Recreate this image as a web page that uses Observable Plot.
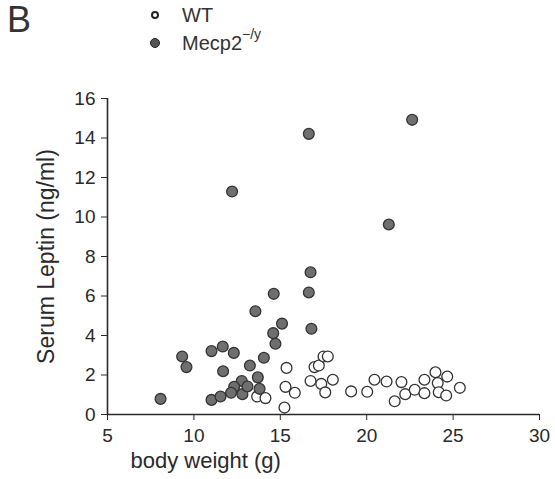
<!DOCTYPE html>
<html>
<head>
<meta charset="utf-8">
<script src="https://cdn.jsdelivr.net/npm/d3@7"></script>
<script src="https://cdn.jsdelivr.net/npm/@observablehq/plot@0.6"></script>
<style>
  html, body { margin: 0; padding: 0; background: #fff; }
  #wrap { position: relative; width: 555px; height: 479px; font-family: "Liberation Sans", Arial, sans-serif; color: #2a2a2a; }
  #wrap svg { position: absolute; left: 0; top: 0; }
  .panel { position: absolute; left: 7px; top: 2px; font-size: 36px; line-height: 36px; color: #333; }
  .leg { position: absolute; left: 150px; font-size: 20px; line-height: 20px; color: #333; }
  .leg .m { position: absolute; left: 0; width: 8px; height: 8px; border-radius: 50%; box-sizing: border-box; }
  .leg .t { position: absolute; left: 32px; top: 0; white-space: nowrap; }
  .leg sup { font-size: 14px; position: relative; top: -3px; vertical-align: super; line-height: 0; }
</style>
</head>
<body>
<div id="wrap"></div>
<script>
// ---- data ----
const wtWeight = [13.66, 14.14, 15.36, 15.30, 15.84, 15.24, 16.75, 16.98, 17.23, 17.50, 17.75, 17.37, 17.60, 18.04, 19.10, 20.03, 20.45, 21.15, 22.01, 21.62, 22.23, 22.78, 23.34, 23.34, 23.98, 24.11, 24.66, 24.17, 24.60, 25.39];
const wtLeptin = [0.91, 0.83, 2.36, 1.40, 1.10, 0.35, 1.70, 2.40, 2.48, 2.94, 2.94, 1.55, 1.12, 1.76, 1.17, 1.15, 1.76, 1.67, 1.64, 0.67, 1.03, 1.25, 1.76, 1.08, 2.14, 1.59, 1.92, 1.13, 0.96, 1.35];
const mecpWeight = [16.65, 22.63, 21.28, 12.21, 16.75, 16.65, 16.80, 15.10, 14.62, 13.56, 14.59, 14.72, 14.05, 13.24, 9.32, 9.57, 11.02, 11.67, 12.31, 11.69, 8.07, 11.02, 11.54, 12.77, 12.33, 12.15, 12.81, 13.10, 13.70, 13.80];
const mecpLeptin = [14.21, 14.92, 9.62, 11.29, 7.20, 6.18, 4.34, 4.60, 6.11, 5.23, 4.12, 3.58, 2.87, 2.48, 2.94, 2.40, 3.21, 3.44, 3.12, 2.19, 0.79, 0.74, 0.91, 1.70, 1.40, 1.10, 1.03, 1.42, 1.88, 1.30];
const xTicks = [5, 10, 15, 20, 25, 30];
const yTicks = [0, 2, 4, 6, 8, 10, 12, 14, 16];
const xLabel = "body weight (g)";
const yLabel = "Serum Leptin (ng/ml)";
const seriesNames = ["WT", "Mecp2"];

const wt = wtWeight.map((w, i) => ({w, l: wtLeptin[i]}));
const mecp = mecpWeight.map((w, i) => ({w, l: mecpLeptin[i]}));

const ink = "#2a2a2a";
const chart = Plot.plot({
  width: 555,
  height: 479,
  marginLeft: 107,
  marginRight: 16,
  marginTop: 98,
  marginBottom: 65,
  style: {fontFamily: "Liberation Sans, Arial, sans-serif", fontSize: "19px", color: ink, background: "transparent"},
  x: {domain: [5, 30], ticks: xTicks, tickSize: 6, tickPadding: 8, label: null},
  y: {domain: [0, 16], ticks: yTicks, tickSize: 6, tickPadding: 6, label: null},
  marks: [
    Plot.ruleX([5], {stroke: ink, strokeWidth: 1.6}),
    Plot.ruleY([0], {stroke: ink, strokeWidth: 1.6}),
    Plot.dot(wt, {x: "w", y: "l", r: 5.4, fill: "white", stroke: "#333", strokeWidth: 1.3}),
    Plot.dot(mecp, {x: "w", y: "l", r: 5.4, fill: "#6f6f6f", stroke: "#333", strokeWidth: 1.3}),
    Plot.text([yLabel], {frameAnchor: "left", rotate: -90, textAnchor: "middle", lineAnchor: "bottom", dx: -54, fontSize: 23, fill: ink}),
    Plot.text([xLabel], {frameAnchor: "bottom-left", textAnchor: "start", lineAnchor: "top", dx: 23, dy: 38, fontSize: 22, fill: ink})
  ]
});

const wrap = document.getElementById("wrap");
wrap.appendChild(chart);

const panel = document.createElement("div");
panel.className = "panel";
panel.textContent = "B";
wrap.appendChild(panel);

function legendItem(top, name, filled, sup) {
  const d = document.createElement("div");
  d.className = "leg";
  d.style.top = top + "px";
  const m = document.createElement("span");
  m.className = "m";
  m.style.top = "6px";
  if (filled) { m.style.background = "#555"; m.style.border = "1.2px solid #222"; m.style.width = "10px"; m.style.height = "10px"; m.style.top = "5px"; m.style.left = "0px"; }
  else { m.style.background = "#fff"; m.style.border = "2px solid #222"; m.style.left = "1px"; }
  d.appendChild(m);
  const t = document.createElement("span");
  t.className = "t";
  t.textContent = name;
  if (sup) { const s = document.createElement("sup"); s.textContent = sup; t.appendChild(s); }
  d.appendChild(t);
  wrap.appendChild(d);
}
legendItem(5, seriesNames[0], false, null);
legendItem(33, seriesNames[1], true, "\u2212/y");
</script>
</body>
</html>
